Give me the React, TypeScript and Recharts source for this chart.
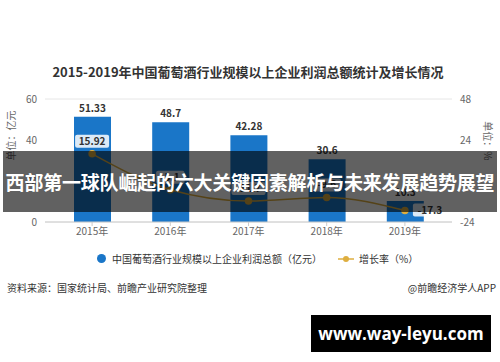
import React from 'react';
import {
    ComposedChart,
    Bar,
    Line,
    XAxis,
    YAxis,
    CartesianGrid,
    LabelList
} from 'recharts';

const years = ['2015年', '2016年', '2017年', '2018年', '2019年'];
const profit = [51.33, 48.7, 42.28, 30.6, 10.3];
const growth = [15.92, -5.1, -11.7, -9.6, -17.3];
const leftTicks = [0, 20, 40, 60];
const rightTicks = [-24, 0, 24, 48];

const colors = {
    bar: '#1a76c8',
    line: '#deae3f',
    grid: '#e6e6e6',
    text: '#666666',
    dark: '#333333'
};

const data = years.map((year, i) => ({ year, profit: profit[i], growth: growth[i] }));

const font = '"Noto Sans CJK SC", "Noto Sans", sans-serif';

const GrowthLabel = (props: any) => {
    const { x, y, value, index } = props;
    const text = String(value);
    const w = text.length * 5.6 + 6;
    // last point sits low inside its bar, so its label goes to the right
    const side = index === years.length - 1;
    const cx = side ? x + 8 + w / 2 : x;
    const top = side ? y - 7 : y - 19;
    return (
        <g>
            <rect x={cx - w / 2} y={top} width={w} height={13} rx={2} fill="#ffffff" fillOpacity={0.85} />
            <text x={cx} y={top + 10} textAnchor="middle" fontSize={10} fontWeight="bold" fill={colors.dark} fontFamily={font}>
                {text}
            </text>
        </g>
    );
};

export default function App() {
    return (
        <div style={{ position: 'absolute', left: 0, top: 0, width: 500, height: 362, background: '#fff', fontFamily: font, overflow: 'hidden' }}>
            <div style={{ position: 'absolute', top: 62, left: 0, width: 496, textAlign: 'center', fontSize: 13, fontWeight: 'bold', color: colors.dark }}>
                2015-2019年中国葡萄酒行业规模以上企业利润总额统计及增长情况
            </div>
            <ComposedChart width={500} height={362} data={data} margin={{ top: 99, right: 18, bottom: 110, left: 15 }}>
                <CartesianGrid stroke={colors.grid} vertical={false} />
                <XAxis
                    dataKey="year"
                    height={30}
                    padding={{ left: 8, right: 8 }}
                    stroke="#cccccc"
                    tick={{ fill: colors.text, fontSize: 10 }}
                    tickSize={4}
                />
                <YAxis
                    yAxisId="left"
                    width={30}
                    domain={[0, 60]}
                    ticks={leftTicks}
                    axisLine={false}
                    tickLine={false}
                    tick={{ fill: colors.text, fontSize: 10 }}
                    label={{ value: '单位：亿元', angle: -90, position: 'insideLeft', offset: -4, fill: colors.text, fontSize: 10 }}
                />
                <YAxis
                    yAxisId="right"
                    orientation="right"
                    width={30}
                    domain={[-24, 48]}
                    ticks={rightTicks}
                    axisLine={false}
                    tickLine={false}
                    tick={{ fill: colors.text, fontSize: 10 }}
                    label={{ value: '单位：%', angle: 90, position: 'insideRight', offset: -6, fill: colors.text, fontSize: 10 }}
                />
                <Bar yAxisId="left" dataKey="profit" fill={colors.bar} barSize={37} isAnimationActive={false}>
                    <LabelList dataKey="profit" position="top" offset={5} fontSize={10} fontWeight="bold" fill={colors.dark} />
                </Bar>
                <Line
                    yAxisId="right"
                    type="monotone"
                    dataKey="growth"
                    stroke={colors.line}
                    strokeWidth={1.5}
                    dot={{ r: 3, fill: colors.line, stroke: colors.line }}
                    isAnimationActive={false}
                >
                    <LabelList dataKey="growth" content={<GrowthLabel />} />
                </Line>
            </ComposedChart>

            {/* legend */}
            <div style={{ position: 'absolute', top: 251, left: 97, display: 'flex', alignItems: 'center', fontSize: 10, color: colors.dark, whiteSpace: 'nowrap' }}>
                <span style={{ display: 'inline-block', width: 9, height: 9, borderRadius: '50%', background: colors.bar, marginRight: 6 }} />
                <span>中国葡萄酒行业规模以上企业利润总额（亿元）</span>
                <svg width={16} height={8} style={{ marginLeft: 16, marginRight: 5 }}>
                    <line x1={0} y1={4} x2={16} y2={4} stroke={colors.line} strokeWidth={1.5} />
                    <circle cx={8} cy={4} r={3} fill={colors.line} />
                </svg>
                <span>增长率（%）</span>
            </div>

            <div style={{ position: 'absolute', top: 280, left: 7, fontSize: 10, color: colors.dark }}>
                资料来源：国家统计局、前瞻产业研究院整理
            </div>
            <div style={{ position: 'absolute', top: 280, right: 4, fontSize: 10, color: colors.dark }}>
                @前瞻经济学人APP
            </div>

            {/* banner overlay */}
            <div style={{ position: 'absolute', top: 151, left: 3, width: 494, height: 61, background: 'rgba(0,0,0,0.62)', display: 'flex', alignItems: 'center', justifyContent: 'center' }}>
                <span style={{ color: '#ffffff', fontSize: 19, fontWeight: 'bold', whiteSpace: 'nowrap', letterSpacing: -0.2 }}>
                    西部第一球队崛起的六大关键因素解析与未来发展趋势展望
                </span>
            </div>

            <div style={{ position: 'absolute', top: 315, left: 311, width: 180, height: 37, background: '#000', display: 'flex', alignItems: 'center', justifyContent: 'center' }}>
                <span style={{ color: '#fff', fontSize: 17, fontWeight: 'bold', fontFamily: '"Open Sans", sans-serif' }}>www.way-leyu.com</span>
            </div>
        </div>
    );
}
